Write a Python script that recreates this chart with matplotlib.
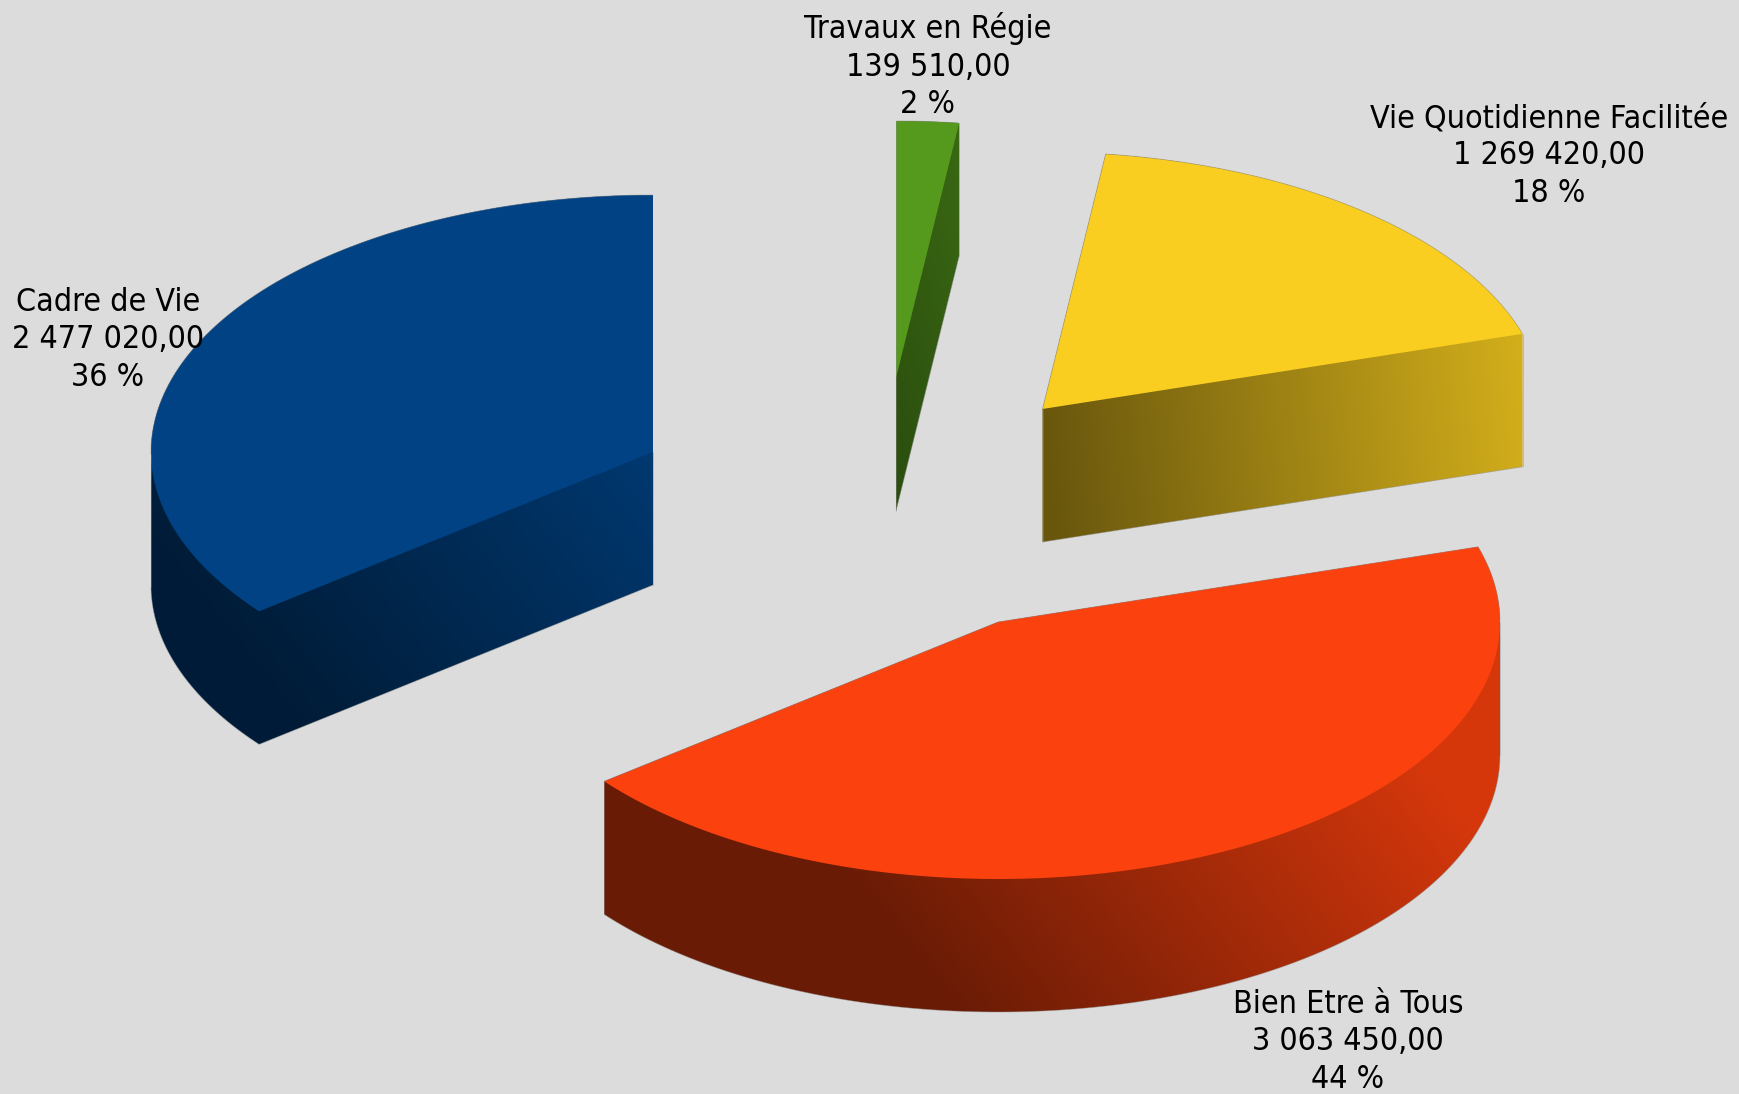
"""Exploded pseudo-3D pie of the budget by programme."""
import numpy as np
import matplotlib
matplotlib.use("Agg")
import matplotlib.pyplot as plt
from matplotlib.collections import LineCollection
from matplotlib.colors import to_rgb
from matplotlib.patches import Polygon

# data, counter-clockwise from 12 o'clock
names = ["Cadre de Vie", "Bien Etre à Tous", "Vie Quotidienne Facilitée", "Travaux en Régie"]
values = [2477020.00, 3063450.00, 1269420.00, 139510.00]
amounts = ["2 477 020,00", "3 063 450,00", "1 269 420,00", "139 510,00"]
percents = ["36 %", "44 %", "18 %", "2 %"]

# style
colors = ["#004283", "#fb410e", "#f9ce20", "#559a1c"]
apex = [(653, 452), (998, 622), (1042.5, 409), (896, 378)]
label_xy = [(108, 340), (1348, 1042), (1549, 156), (928, 66)]
shade_u = [(85, 640), (642, 1310), (1042, 1530), (776, 1206)]
tilt = [0.8, 0.8, 0.1, 0.3]
SHADE_LO, SHADE_HI = 0.42, 0.85
RX, RY, DEPTH = 502, 257, 133
BG = "#dcdcdc"
EDGE = "#8c8c8c"


def outline(cx, cy, a0, a1):
    """Top face of a slice as a closed polygon."""
    th = np.linspace(a0, a1, 160)
    arc = np.c_[cx + RX * np.cos(th), cy - RY * np.sin(th)]
    return np.vstack([[cx, cy], arc])


def convex_hull(points):
    pts = sorted(map(tuple, points))
    def half(seq):
        out = []
        for p in seq:
            while len(out) > 1 and ((out[-1][0] - out[-2][0]) * (p[1] - out[-2][1])
                                    - (out[-1][1] - out[-2][1]) * (p[0] - out[-2][0])) <= 0:
                out.pop()
            out.append(p)
        return out[:-1]
    return np.array(half(pts) + half(pts[::-1]))


fig = plt.figure(figsize=(17.39, 10.94), dpi=100, facecolor=BG)
ax = fig.add_axes([0, 0, 1, 1])
ax.set_xlim(0, 1739)
ax.set_ylim(1094, 0)
ax.axis("off")

plt.rcParams["font.family"] = ["DejaVu Sans"]
xx, yy = np.meshgrid(np.arange(1739) + 0.5, np.arange(1094) + 0.5)

fracs = np.array(values) / sum(values)
start = np.pi / 2
for i, frac in enumerate(fracs):
    a0, a1 = start, start + 2 * np.pi * frac
    start = a1
    cx, cy = apex[i]
    pts = outline(cx, cy, a0, a1)
    nxt = np.roll(pts, -1, axis=0)

    # side walls: a gradient clipped to the top outline swept downwards
    u = xx - tilt[i] * (yy - cy)
    t = np.clip((u - shade_u[i][0]) / (shade_u[i][1] - shade_u[i][0]), 0, 1)
    shade = SHADE_LO + (SHADE_HI - SHADE_LO) * t
    img = shade[..., None] * np.array(to_rgb(colors[i]))
    hull = convex_hull(np.vstack([pts, pts + [0, DEPTH]]))
    im = ax.imshow(img, extent=(0, 1739, 1094, 0), aspect="auto", zorder=2, interpolation="nearest")
    im.set_clip_path(Polygon(hull, closed=True, transform=ax.transData))

    ax.fill(pts[:, 0], pts[:, 1], color=colors[i], lw=0, zorder=3)

    # thin grey silhouette: back edges on top, front edges at the bottom
    area = np.sum(pts[:, 0] * nxt[:, 1] - nxt[:, 0] * pts[:, 1])
    normal_y = -(nxt[:, 0] - pts[:, 0]) * np.sign(area)
    segs = []
    for p, q, ny in zip(pts, nxt, normal_y):
        if ny < 0:
            segs.append([p, q])
        elif ny > 0:
            segs.append([(p[0], p[1] + DEPTH), (q[0], q[1] + DEPTH)])
    for x_ext in (pts[:, 0].min(), pts[:, 0].max()):
        y_ext = pts[np.argmin(np.abs(pts[:, 0] - x_ext)), 1]
        segs.append([(x_ext, y_ext), (x_ext, y_ext + DEPTH)])
    ax.add_collection(LineCollection(segs, colors=EDGE, linewidths=0.6, alpha=0.5, zorder=4))

    ax.text(label_xy[i][0], label_xy[i][1], f"{names[i]}\n{amounts[i]}\n{percents[i]}",
            ha="center", va="center", ma="center", fontsize=23, fontstretch="condensed",
            color="black", linespacing=1.26, zorder=5)

ax.set_xlim(0, 1739)
ax.set_ylim(1094, 0)
fig.savefig("out.png", dpi=100, facecolor=BG)
